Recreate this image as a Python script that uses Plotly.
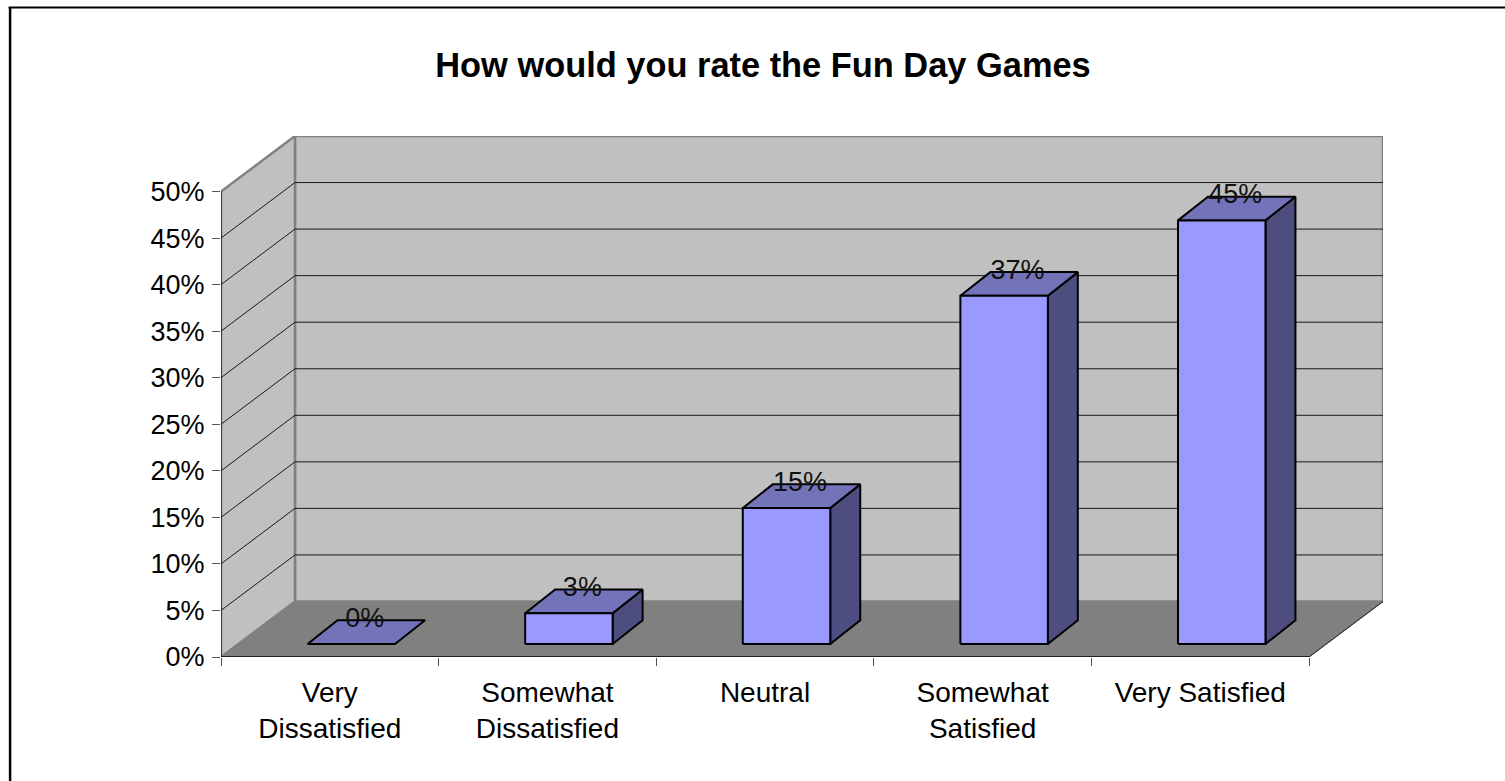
import plotly.graph_objects as go

categories = ["Very<br>Dissatisfied", "Somewhat<br>Dissatisfied", "Neutral", "Somewhat<br>Satisfied", "Very Satisfied"]
values = [0.0, 3.3, 14.6, 37.4, 45.5]
value_labels = ["0%", "3%", "15%", "37%", "45%"]
y_ticks = [0, 5, 10, 15, 20, 25, 30, 35, 40, 45, 50]
y_tick_labels = ["0%", "5%", "10%", "15%", "20%", "25%", "30%", "35%", "40%", "45%", "50%"]
title = "How would you rate the Fun Day Games"

W, H = 1505, 781
L, R, T, B = 220.5, 1383.0, 136.0, 657.0
X_FRONT = 1309.0
Y50 = 191.5
UX = (X_FRONT - L) / len(categories)
UY = (B - Y50) / 50
DX = (R - X_FRONT) / UX
DY = (B - T) / UY - 50
BAR_W = 87.5 / UX
BAR_OX = 21.5 / UX
BAR_OY = 13.0 / UY
BAR_DX = 30.0 / UX
BAR_DY = 23.7 / UY
LAB_OX = 13.5 / UX
LAB_OY = 24.0 / UY
n = len(categories)
ymax = y_ticks[-1]


def poly(name_pts, fill, line="#808080", width=1):
    xs = [p[0] for p in name_pts]
    ys = [p[1] for p in name_pts]
    return go.Scatter(x=xs, y=ys, mode="lines", fill="toself", fillcolor=fill,
                      line=dict(color=line, width=width), cliponaxis=False,
                      hoverinfo="skip", showlegend=False)


def seg(xs, ys, color="black", width=1):
    return go.Scatter(x=xs, y=ys, mode="lines", line=dict(color=color, width=width),
                      cliponaxis=False, hoverinfo="skip", showlegend=False)


fig = go.Figure()
fig.add_trace(poly([(DX, DY), (n + DX, DY), (n + DX, ymax + DY), (DX, ymax + DY), (DX, DY)], "#C0C0C0", "#808080", 2.5))
fig.add_trace(poly([(0, 0), (DX, DY), (DX, ymax + DY), (0, ymax), (0, 0)], "#C0C0C0", "#808080", 2.5))
fig.add_trace(poly([(0, 0), (n, 0), (n + DX, DY), (DX, DY), (0, 0)], "#808080", "#808080", 1))

for t in y_ticks[1:-1]:
    fig.add_trace(seg([0, DX, n + DX], [t, t + DY, t + DY], "#1a1a1a", 1))
fig.add_trace(seg([n, n + DX], [0, DY], "#1a1a1a", 1))
fig.add_trace(seg([0, 0], [0, ymax], "#000000", 1))
fig.add_trace(seg([0, n], [0, 0], "#000000", 1.5))

for i, v in enumerate(values):
    x0 = i + 0.5 + BAR_OX - BAR_W / 2
    x1 = x0 + BAR_W
    y0 = BAR_OY
    y1 = y0 + v
    if v > 0:
        fig.add_trace(poly([(x1, y0), (x1 + BAR_DX, y0 + BAR_DY), (x1 + BAR_DX, y1 + BAR_DY), (x1, y1), (x1, y0)],
                           "#4D4D80", "#000000", 2))
    fig.add_trace(poly([(x0, y1), (x1, y1), (x1 + BAR_DX, y1 + BAR_DY), (x0 + BAR_DX, y1 + BAR_DY), (x0, y1)],
                       "#7373BA", "#000000", 2))
    if v > 0:
        fig.add_trace(poly([(x0, y0), (x1, y0), (x1, y1), (x0, y1), (x0, y0)],
                           "#9999FF", "#000000", 2))

fig.add_trace(go.Scatter(
    x=[i + 0.5 + BAR_OX + LAB_OX for i in range(n)],
    y=[v + BAR_OY + LAB_OY for v in values],
    mode="text", text=value_labels, textposition="middle center",
    textfont=dict(family="Liberation Sans", size=27, color="#111111"),
    cliponaxis=False, hoverinfo="skip", showlegend=False))


def px(x):
    return (x - L) / (R - L)


def py(y):
    return (B - y) / (B - T)


fig.update_layout(
    width=W, height=H, autosize=False,
    margin=dict(l=L, r=W - R, t=T, b=H - B, pad=0),
    paper_bgcolor="white", plot_bgcolor="white",
    font=dict(family="Liberation Sans", size=27, color="black"),
    title=dict(text="<b>" + title + "</b>", x=763 / W, xanchor="center", y=1 - 65 / H, yanchor="middle",
               font=dict(family="Liberation Sans", size=34.4, color="black")),
    showlegend=False,
    xaxis=dict(range=[0, n + DX], showgrid=False, zeroline=False, showline=False,
               tickmode="array", tickvals=[i + 0.5 for i in range(n)], ticktext=categories,
               ticks="", ticklabelstandoff=16, tickangle=0, tickfont=dict(size=28),
               minor=dict(ticks="outside", ticklen=8, tickcolor="#555555", tickwidth=1, tick0=0, dtick=1, showgrid=False)),
    yaxis=dict(range=[0, ymax + DY], showgrid=False, zeroline=False, showline=False,
               tickmode="array", tickvals=y_ticks, ticktext=y_tick_labels,
               ticks="outside", ticklen=8, tickcolor="#555555", tickwidth=1, ticklabelstandoff=2),
    shapes=[
        dict(type="line", xref="paper", yref="paper", x0=px(9.5), x1=px(9.5), y0=py(7), y1=py(790),
             line=dict(color="black", width=2.5)),
        dict(type="line", xref="paper", yref="paper", x0=px(8), x1=px(1515), y0=py(7.5), y1=py(7.5),
             line=dict(color="black", width=2)),
    ],
)

fig.write_html("out.html", config=dict(displayModeBar=False),
               post_script="document.body.style.margin='0';document.body.style.overflow='hidden';")
